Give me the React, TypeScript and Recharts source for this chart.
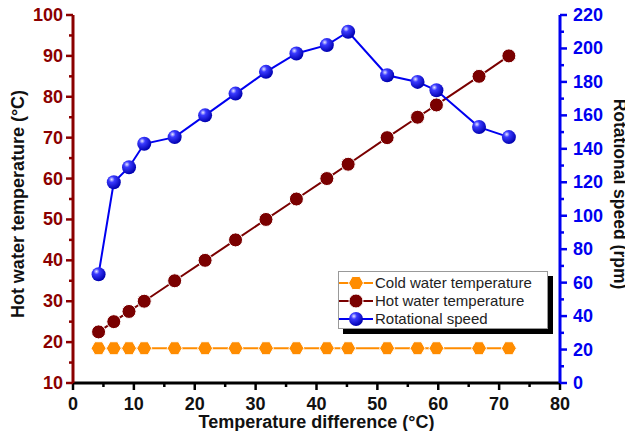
import * as React from "react";
import {
  ComposedChart,
  Line,
  XAxis,
  YAxis,
} from "recharts";

const tempDiff = [4.2, 6.7, 9.2, 11.7, 16.7, 21.7, 26.7, 31.7, 36.7, 41.7, 45.2, 51.6, 56.6, 59.7, 66.7, 71.6];
const hotWater = [22.5, 25, 27.5, 30, 35, 40, 45, 50, 55, 60, 63.5, 70, 75, 78, 85, 90];
const coldWater = [18.5, 18.5, 18.5, 18.5, 18.5, 18.5, 18.5, 18.5, 18.5, 18.5, 18.5, 18.5, 18.5, 18.5, 18.5, 18.5];
const rotSpeed = [65, 120, 129, 143, 147, 160, 173, 186, 197, 202, 210, 184, 180, 175, 153, 147];

const xTicks = [0, 5, 10, 15, 20, 25, 30, 35, 40, 45, 50, 55, 60, 65, 70, 75, 80];
const leftTicks = [10, 15, 20, 25, 30, 35, 40, 45, 50, 55, 60, 65, 70, 75, 80, 85, 90, 95, 100];
const rightTicks = [0, 10, 20, 30, 40, 50, 60, 70, 80, 90, 100, 110, 120, 130, 140, 150, 160, 170, 180, 190, 200, 210, 220];

const data = tempDiff.map((x, i) => ({
  x,
  hot: hotWater[i],
  cold: coldWater[i],
  speed: rotSpeed[i],
}));

const RED = "#8B0000";
const BLUE = "#0000F0";
const ORANGE = "#FF8C00";
const FONT = "Arial, 'Liberation Sans', sans-serif";

// ticks with major/minor marks drawn by hand
const makeTick = (side: string, color: string, major: (v: number) => boolean, showLabel: boolean) =>
  (props: any) => {
    const { x, y, payload } = props;
    const v = payload.value;
    const big = major(v);
    const len = big ? 7 : 4;
    if (side === "left") {
      return (
        <g>
          <line x1={x} x2={x - len} y1={y} y2={y} stroke={color} strokeWidth={2.5} />
          {big && showLabel && (
            <text x={x - 10} y={y} dy={6} textAnchor="end" fill={color} fontSize={18} fontWeight="bold" fontFamily={FONT}>{v}</text>
          )}
        </g>
      );
    }
    if (side === "right") {
      return (
        <g>
          <line x1={x} x2={x + len} y1={y} y2={y} stroke={color} strokeWidth={2.5} />
          {big && showLabel && (
            <text x={x + 13} y={y} dy={6} textAnchor="start" fill={color} fontSize={18} fontWeight="bold" fontFamily={FONT}>{v}</text>
          )}
        </g>
      );
    }
    if (side === "bottom") {
      return (
        <g>
          <line x1={x} x2={x} y1={y} y2={y + len} stroke={color} strokeWidth={2.5} />
          {big && showLabel && (
            <text x={x} y={y + 27} textAnchor="middle" fill="#111" fontSize={18} fontWeight="bold" fontFamily={FONT}>{v}</text>
          )}
        </g>
      );
    }
    // top, ticks point inward
    return <line x1={x} x2={x} y1={y} y2={y + len} stroke={color} strokeWidth={2.5} />;
  };

const Hexagon = (props: any) => {
  const { cx, cy } = props;
  if (cx == null || cy == null) return null;
  const r = 7.5;
  const pts = [0, 60, 120, 180, 240, 300]
    .map((a) => {
      const t = (a * Math.PI) / 180;
      return `${cx + r * Math.cos(t)},${cy + r * Math.sin(t)}`;
    })
    .join(" ");
  return <polygon points={pts} fill={ORANGE} stroke="#fff" strokeWidth={1} />;
};

const HotDot = (props: any) => {
  const { cx, cy } = props;
  if (cx == null || cy == null) return null;
  return <circle cx={cx} cy={cy} r={7} fill="#7A0000" stroke="#fff" strokeWidth={1} />;
};

const Sphere = (props: any) => {
  const { cx, cy } = props;
  if (cx == null || cy == null) return null;
  return (
    <g>
      <defs>
        <radialGradient id="sphereGrad" cx="35%" cy="30%" r="70%">
          <stop offset="0%" stopColor="#E8E8FF" />
          <stop offset="30%" stopColor="#3A3AFF" />
          <stop offset="100%" stopColor="#0000B0" />
        </radialGradient>
      </defs>
      <circle cx={cx} cy={cy} r={7} fill="url(#sphereGrad)" />
    </g>
  );
};

const legendItems = [
  { label: "Cold water temperature", color: ORANGE, kind: "hex" },
  { label: "Hot water temperature", color: "#7A0000", kind: "hot" },
  { label: "Rotational speed", color: BLUE, kind: "sphere" },
];

const LegendBox = () => (
  <div style={{ position: "absolute", left: 330, top: 263, width: 210, height: 58 }}>
    <div style={{ position: "absolute", left: 5, top: 5, width: 210, height: 58, background: "#000" }} />
    <div
      style={{
        position: "absolute",
        left: 0,
        top: 0,
        width: 208,
        height: 56,
        background: "#fff",
        border: "1px solid #999",
      }}
    >
      {legendItems.map((it, i) => (
        <div key={it.label} style={{ display: "flex", alignItems: "center", height: 18, marginTop: i === 0 ? 2 : 0 }}>
          <svg width={34} height={18}>
            <line x1={0} x2={34} y1={9} y2={9} stroke={it.color} strokeWidth={2} />
            {it.kind === "hex" && <Hexagon cx={17} cy={9} />}
            {it.kind === "hot" && <HotDot cx={17} cy={9} />}
            {it.kind === "sphere" && <Sphere cx={17} cy={9} />}
          </svg>
          <span style={{ fontFamily: FONT, fontSize: 15, color: "#222", marginLeft: 2, lineHeight: "18px" }}>{it.label}</span>
        </div>
      ))}
    </div>
  </div>
);

export default function App() {
  return (
    <div style={{ position: "relative", width: 617, height: 423 }}>
      <style>{`.recharts-surface { overflow: visible; }`}</style>
      <ComposedChart
        width={617}
        height={423}
        data={data}
        margin={{ top: 7, right: 0, bottom: 0, left: 0 }}
      >
        <XAxis
          xAxisId="bottom"
          dataKey="x"
          type="number"
          domain={[0, 80]}
          ticks={xTicks}
          interval={0}
          height={48}
          axisLine={{ stroke: "#000", strokeWidth: 3 }}
          tickLine={false}
          tickSize={0}
          tickMargin={0}
          tick={makeTick("bottom", "#000", (v) => v % 10 === 0, true)}
        />
        <XAxis
          xAxisId="top"
          orientation="top"
          dataKey="x"
          type="number"
          domain={[0, 80]}
          ticks={xTicks}
          interval={0}
          height={0}
          axisLine={{ stroke: "#000", strokeWidth: 3 }}
          tickLine={false}
          tickSize={0}
          tickMargin={0}
          tick={makeTick("top", "#000", (v) => v % 10 === 0, false)}
        />
        <YAxis
          yAxisId="left"
          domain={[10, 100]}
          ticks={leftTicks}
          interval={0}
          width={65}
          axisLine={{ stroke: RED, strokeWidth: 3 }}
          tickLine={false}
          tickSize={0}
          tickMargin={0}
          tick={makeTick("left", RED, (v) => v % 10 === 0, true)}
        />
        <YAxis
          yAxisId="right"
          orientation="right"
          domain={[0, 220]}
          ticks={rightTicks}
          interval={0}
          width={65}
          axisLine={{ stroke: BLUE, strokeWidth: 3 }}
          tickLine={false}
          tickSize={0}
          tickMargin={0}
          tick={makeTick("right", BLUE, (v) => v % 20 === 0, true)}
        />
        <Line
          xAxisId="bottom"
          yAxisId="left"
          dataKey="cold"
          name="Cold water temperature"
          stroke={ORANGE}
          strokeWidth={2}
          dot={<Hexagon />}
          isAnimationActive={false}
        />
        <Line
          xAxisId="bottom"
          yAxisId="left"
          dataKey="hot"
          name="Hot water temperature"
          stroke="#7A0000"
          strokeWidth={2}
          dot={<HotDot />}
          isAnimationActive={false}
        />
        <Line
          xAxisId="bottom"
          yAxisId="right"
          dataKey="speed"
          name="Rotational speed"
          stroke={BLUE}
          strokeWidth={2}
          dot={<Sphere />}
          isAnimationActive={false}
        />
      </ComposedChart>
      <LegendBox />
      <div
        style={{
          position: "absolute",
          left: 10,
          top: 196,
          transform: "translate(-50%, -50%) rotate(-90deg)",
          whiteSpace: "nowrap",
          fontFamily: FONT,
          fontWeight: "bold",
          fontSize: 18,
          lineHeight: "18px",
          color: "#111",
        }}
      >
        Hot water temperature (°C)
      </div>
      <div
        style={{
          position: "absolute",
          left: 612,
          top: 186,
          transform: "translate(-50%, -50%) rotate(90deg)",
          whiteSpace: "nowrap",
          fontFamily: FONT,
          fontWeight: "bold",
          fontSize: 17.5,
          lineHeight: "18px",
          color: "#111",
        }}
      >
        Rotational speed (rpm)
      </div>
      <div
        style={{
          position: "absolute",
          left: 65,
          width: 487,
          top: 404,
          textAlign: "center",
          fontFamily: FONT,
          fontWeight: "bold",
          fontSize: 18,
          color: "#111",
          lineHeight: "20px",
        }}
      >
        Temperature difference (°C)
      </div>
    </div>
  );
}
